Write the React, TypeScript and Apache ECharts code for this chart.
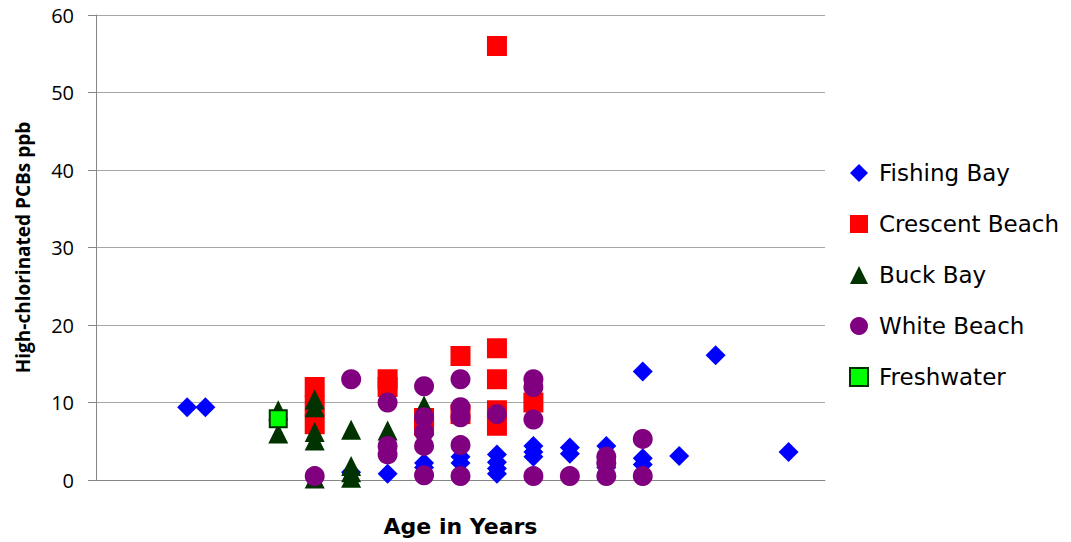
import React, { useEffect, useRef } from "react";
import * as echarts from "echarts";

const seriesNames = ["Fishing Bay", "Crescent Beach", "Buck Bay", "White Beach", "Freshwater"];

const fishingBay: number[][] = [
  [2.5, 9.4], [3, 9.4], [7, 1.0], [8, 0.8], [9, 2.2], [9, 1.6], [10, 3.0], [10, 2.2],
  [11, 3.3], [11, 2.3], [11, 1.5], [11, 0.8], [12, 4.4], [12, 3.6], [12, 3.0],
  [13, 4.2], [13, 3.4], [14, 4.4], [14, 2.3], [14, 1.6], [15, 14.0], [15, 2.8], [15, 2.0],
  [16, 3.1], [17, 16.1], [19, 3.6],
];

const crescentBeach: number[][] = [
  [6, 12.0], [6, 9.6], [6, 7.2], [8, 13.0], [8, 12.0], [9, 8.0], [9, 7.0],
  [10, 16.0], [10, 8.5], [11, 56.0], [11, 17.0], [11, 13.0], [11, 9.0], [11, 7.0], [12, 10.0],
];

const buckBay: number[][] = [
  [5, 9.0], [5, 6.0], [6, 10.4], [6, 9.4], [6, 6.2], [6, 5.1], [6, 0.2],
  [7, 6.5], [7, 1.8], [7, 1.0], [7, 0.3], [8, 6.4], [9, 9.6],
];

const whiteBeach: number[][] = [
  [6, 0.5], [7, 13.0], [8, 10.0], [8, 4.4], [8, 3.3], [9, 12.1], [9, 8.1], [9, 6.2],
  [9, 4.4], [9, 0.6], [10, 13.0], [10, 9.4], [10, 8.1], [10, 4.5], [10, 0.5], [11, 8.5],
  [12, 13.0], [12, 12.0], [12, 7.8], [12, 0.5], [13, 0.5], [14, 3.0], [14, 2.2], [14, 0.5],
  [15, 5.3], [15, 0.5],
];

const freshwater: number[][] = [[5, 7.9]];

const yTicks = { min: 0, max: 60, interval: 10 };
const xRange = { min: 0, max: 20 };

const FONT = "'Open Sans', 'Liberation Sans', sans-serif";
const WIDE = "'DejaVu Sans', 'Open Sans', sans-serif";

export default function App() {
  const ref = useRef<HTMLDivElement>(null);
  useEffect(() => {
    if (!ref.current) return;
    const chart = echarts.init(ref.current, undefined, { renderer: "svg" });
    chart.setOption({
      animation: false,
      backgroundColor: "#ffffff",
      grid: { left: 96, right: 246, top: 15, bottom: 61, containLabel: false },
      xAxis: {
        type: "value",
        min: xRange.min,
        max: xRange.max,
        name: "Age in Years",
        nameLocation: "middle",
        nameGap: 35,
        nameTextStyle: { fontFamily: WIDE, fontSize: 22, fontWeight: "bold", color: "#000" },
        axisLine: { show: true, lineStyle: { color: "#868686", width: 1 } },
        axisTick: { show: false },
        axisLabel: { show: false },
        splitLine: { show: false },
      },
      yAxis: {
        type: "value",
        min: yTicks.min,
        max: yTicks.max,
        interval: yTicks.interval,
        name: "High-chlorinated PCBs ppb",
        nameLocation: "middle",
        nameGap: 64,
        nameRotate: 90,
        nameTextStyle: { fontFamily: FONT, fontSize: 19, fontWeight: "bold", color: "#000" },
        axisLine: { show: true, lineStyle: { color: "#868686", width: 1 } },
        axisTick: { show: true, length: 8, lineStyle: { color: "#868686" } },
        axisLabel: { fontFamily: FONT, fontSize: 20, color: "#000", margin: 22 },
        splitLine: { show: true, lineStyle: { color: "#a6a6a6", width: 1 } },
      },
      legend: {
        orient: "vertical",
        left: 849,
        top: 161,
        padding: 0,
        itemWidth: 18,
        itemHeight: 18,
        itemGap: 27,
        data: seriesNames,
        textStyle: { fontFamily: WIDE, fontSize: 23, color: "#000", lineHeight: 24, padding: [0, 0, 0, 6] },
      },
      series: [
        {
          name: seriesNames[0],
          type: "scatter",
          symbol: "diamond",
          symbolSize: 20,
          itemStyle: { color: "#0000ff", opacity: 1 },
          data: fishingBay,
        },
        {
          name: seriesNames[1],
          type: "scatter",
          symbol: "rect",
          symbolSize: 20,
          itemStyle: { color: "#ff0000", opacity: 1 },
          data: crescentBeach,
        },
        {
          name: seriesNames[2],
          type: "scatter",
          symbol: "triangle",
          symbolSize: 20,
          itemStyle: { color: "#003300", opacity: 1 },
          data: buckBay,
        },
        {
          name: seriesNames[3],
          type: "scatter",
          symbol: "circle",
          symbolSize: 20,
          itemStyle: { color: "#800080", opacity: 1 },
          data: whiteBeach,
        },
        {
          name: seriesNames[4],
          type: "scatter",
          symbol: "rect",
          symbolSize: 17,
          itemStyle: { color: "#00ff00", borderColor: "#003300", borderWidth: 2, opacity: 1 },
          data: freshwater,
        },
      ],
    });
    return () => chart.dispose();
  }, []);
  return (
    <div
      ref={ref}
      style={{ position: "fixed", left: 0, top: 0, width: 1071, height: 542 }}
    />
  );
}
